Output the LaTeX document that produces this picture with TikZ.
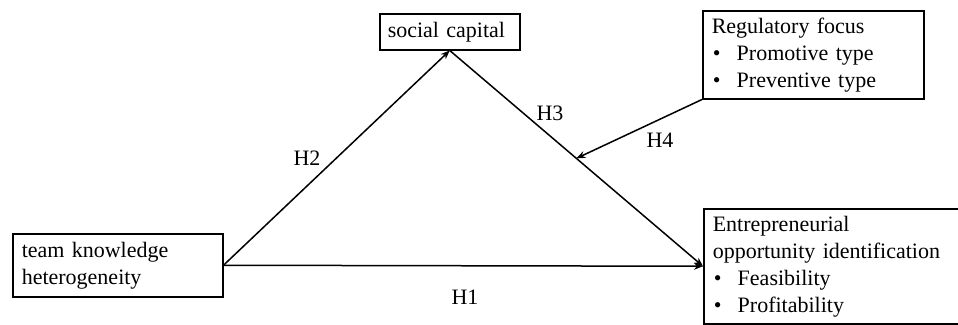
\documentclass[tikz,border=0pt]{standalone}
\usepackage{fontspec}
\setmainfont{Liberation Serif}
\usetikzlibrary{arrows.meta,calc}
\newcommand{\bitem}[1]{\makebox[25pt][l]{\hspace{1pt}•}#1}
\begin{document}
\begin{tikzpicture}[x=1pt,y=-1pt,
  box/.style={draw, line width=1.5pt, rectangle, anchor=north west, inner ysep=0pt,
    align=left, font=\fontsize{22}{27}\selectfont},
  conn/.style={line width=1.5pt, -{Stealth[length=9pt,width=7pt]}},
  lab/.style={font=\fontsize{22}{27}\selectfont, inner sep=0pt}]
\useasboundingbox (0,0) rectangle (958,324);
\node[box, minimum width=210pt, minimum height=63pt, inner xsep=9pt, text width=192pt] (tkh) at (12,233) {team knowledge\\heterogeneity};
\node[box, minimum width=140pt, minimum height=36pt, inner xsep=8pt, text width=124pt] (sc) at (379,13) {social capital};
\node[box, minimum width=221pt, minimum height=88pt, inner xsep=9pt, text width=203pt] (rf) at (702,10) {Regulatory focus\\\bitem{Promotive type}\\\bitem{Preventive type}};
\node[box, minimum width=262pt, minimum height=115pt, inner xsep=9pt, text width=244pt] (eoi) at (703,208) {Entrepreneurial\\opportunity identification\\\bitem{Feasibility}\\\bitem{Profitability}};
\draw[conn] (tkh.east) -- (sc.south);
\draw[conn] (sc.south) -- (eoi.west);
\draw[conn] (tkh.east) -- (eoi.west);
\coordinate (m) at ($(sc.south)!0.5!(eoi.west)$);
\draw[conn] (rf.south west) -- (m);
\node[lab] (h2) at (307,158) {H2};
\node[lab] (h3) at (550,113) {H3};
\node[lab] (h4) at (660,140) {H4};
\node[lab] (h1) at (465,297) {H1};
\end{tikzpicture}
\end{document}
